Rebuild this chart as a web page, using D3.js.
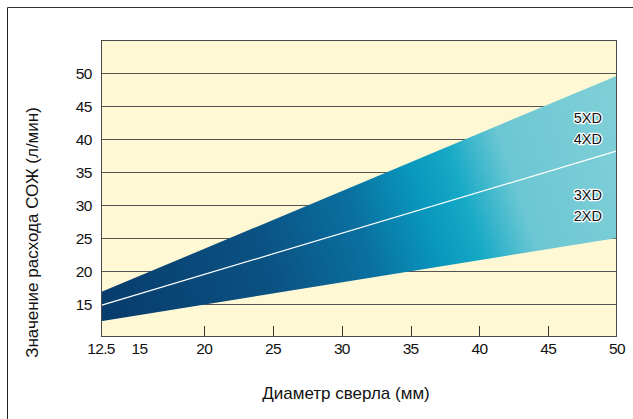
<!DOCTYPE html>
<html>
<head>
<meta charset="utf-8">
<script src="https://cdn.jsdelivr.net/npm/d3@7"></script>
<style>
  html, body { margin: 0; padding: 0; background: #fff; }
  svg { display: block; }
  text { font-family: "Liberation Sans", Arial, Helvetica, sans-serif; fill: #111; }
</style>
</head>
<body>
<svg id="chart" width="633" height="419"></svg>
<script>
// ---- data ----
const diameters = [12.5, 50];           // drill diameter (mm)
const upperFlow = [16.8, 49.6];         // 5XD / 4XD boundary (l/min)
const middleFlow = [14.8, 38.2];        // white divider line
const lowerFlow = [12.4, 25.0];         // 3XD / 2XD boundary
const xTickValues = [12.5, 15, 20, 25, 30, 35, 40, 45, 50];
const xTickMarks = [20, 25, 30, 35, 40, 45];
const yTickValues = [15, 20, 25, 30, 35, 40, 45, 50];
const upperLabels = ["5XD", "4XD"];
const lowerLabels = ["3XD", "2XD"];
const xTitle = "Диаметр сверла (мм)";
const yTitle = "Значение расхода СОЖ (л/мин)";

const svg = d3.select("#chart");
const plot = { left: 101, right: 617, top: 40, bottom: 337 };

const x = d3.scaleLinear().domain([12.5, 50]).range([plot.left, plot.right]);
const y = d3.scaleLinear().domain([10, 55]).range([plot.bottom, plot.top]);

// outer frame
svg.append("line").attr("x1", 7.5).attr("y1", 7.5).attr("x2", 633).attr("y2", 7.5)
  .attr("stroke", "#333").attr("stroke-width", 1);
svg.append("line").attr("x1", 7.5).attr("y1", 7.5).attr("x2", 7.5).attr("y2", 419)
  .attr("stroke", "#222").attr("stroke-width", 1);

// gradient
const defs = svg.append("defs");
const grad = defs.append("linearGradient").attr("id", "bandGrad")
  .attr("gradientUnits", "userSpaceOnUse")
  .attr("x1", plot.left).attr("y1", 280).attr("x2", plot.right).attr("y2", 110);
[[0, "#083d6d"], [0.3, "#0a5283"], [0.48, "#0a70a0"], [0.6, "#0896bd"],
 [0.68, "#16a9c6"], [0.78, "#6cc7d3"], [1, "#7fcfd7"]].forEach(([o, c]) =>
  grad.append("stop").attr("offset", o).attr("stop-color", c));

// plot background
svg.append("rect").attr("x", plot.left).attr("y", plot.top)
  .attr("width", plot.right - plot.left).attr("height", plot.bottom - plot.top)
  .attr("fill", "#fff8d4");

// horizontal grid
svg.append("g").selectAll("line").data(yTickValues).join("line")
  .attr("x1", plot.left).attr("x2", plot.right)
  .attr("y1", d => Math.round(y(d)) + 0.5).attr("y2", d => Math.round(y(d)) + 0.5)
  .attr("stroke", "#555").attr("stroke-width", 1);

// band
const pts = diameters.map((d, i) => ({ d, up: upperFlow[i], lo: lowerFlow[i], mid: middleFlow[i] }));
const area = d3.area().x(p => x(p.d)).y0(p => y(p.lo)).y1(p => y(p.up));
svg.append("path").datum(pts).attr("d", area).attr("fill", "url(#bandGrad)");

const line = d3.line().x(p => x(p.d)).y(p => y(p.mid));
svg.append("path").datum(pts).attr("d", line)
  .attr("fill", "none").attr("stroke", "#fff").attr("stroke-width", 1.2);

// tick marks along bottom (inside)
svg.append("g").selectAll("line").data(xTickMarks).join("line")
  .attr("x1", d => Math.round(x(d)) + 0.5).attr("x2", d => Math.round(x(d)) + 0.5)
  .attr("y1", plot.bottom - 11).attr("y2", plot.bottom)
  .attr("stroke", "#333").attr("stroke-width", 1);

// plot border
svg.append("rect").attr("x", plot.left + 0.5).attr("y", plot.top + 0.5)
  .attr("width", plot.right - plot.left - 1).attr("height", plot.bottom - plot.top - 1)
  .attr("fill", "none").attr("stroke", "#4a4a4a").attr("stroke-width", 1);

// x tick labels
svg.append("g").selectAll("text").data(xTickValues).join("text")
  .attr("x", d => x(d) + (d === 15 ? 4 : 0))
  .attr("y", 354)
  .attr("text-anchor", "middle")
  .attr("font-size", 15.5)
  .attr("letter-spacing", -0.7)
  .text(d => d);

// y tick labels
svg.append("g").selectAll("text").data(yTickValues).join("text")
  .attr("x", 92).attr("y", d => y(d) + 6)
  .attr("text-anchor", "end")
  .attr("font-size", 15.5)
  .attr("letter-spacing", -0.5)
  .text(d => d);

// titles
svg.append("text").attr("x", 346).attr("y", 399)
  .attr("text-anchor", "middle").attr("font-size", 17).text(xTitle);
svg.append("text")
  .attr("transform", `translate(38,232.5) rotate(-90)`)
  .attr("text-anchor", "middle").attr("font-size", 17).text(yTitle);

// band labels
const labelX = x(50) - 15;
function bandLabels(labels, vals) {
  svg.append("g").selectAll("text").data(labels).join("text")
    .attr("x", labelX).attr("y", (d, i) => y(vals[i]))
    .attr("text-anchor", "end").attr("font-size", 14.5)
    .attr("stroke", "#fff").attr("stroke-width", 2.5).attr("paint-order", "stroke")
    .attr("stroke-linejoin", "round")
    .style("fill", "#111")
    .text(d => d);
}
bandLabels(upperLabels, [42.35, 39.3]);
bandLabels(lowerLabels, [30.75, 27.6]);
</script>
</body>
</html>
